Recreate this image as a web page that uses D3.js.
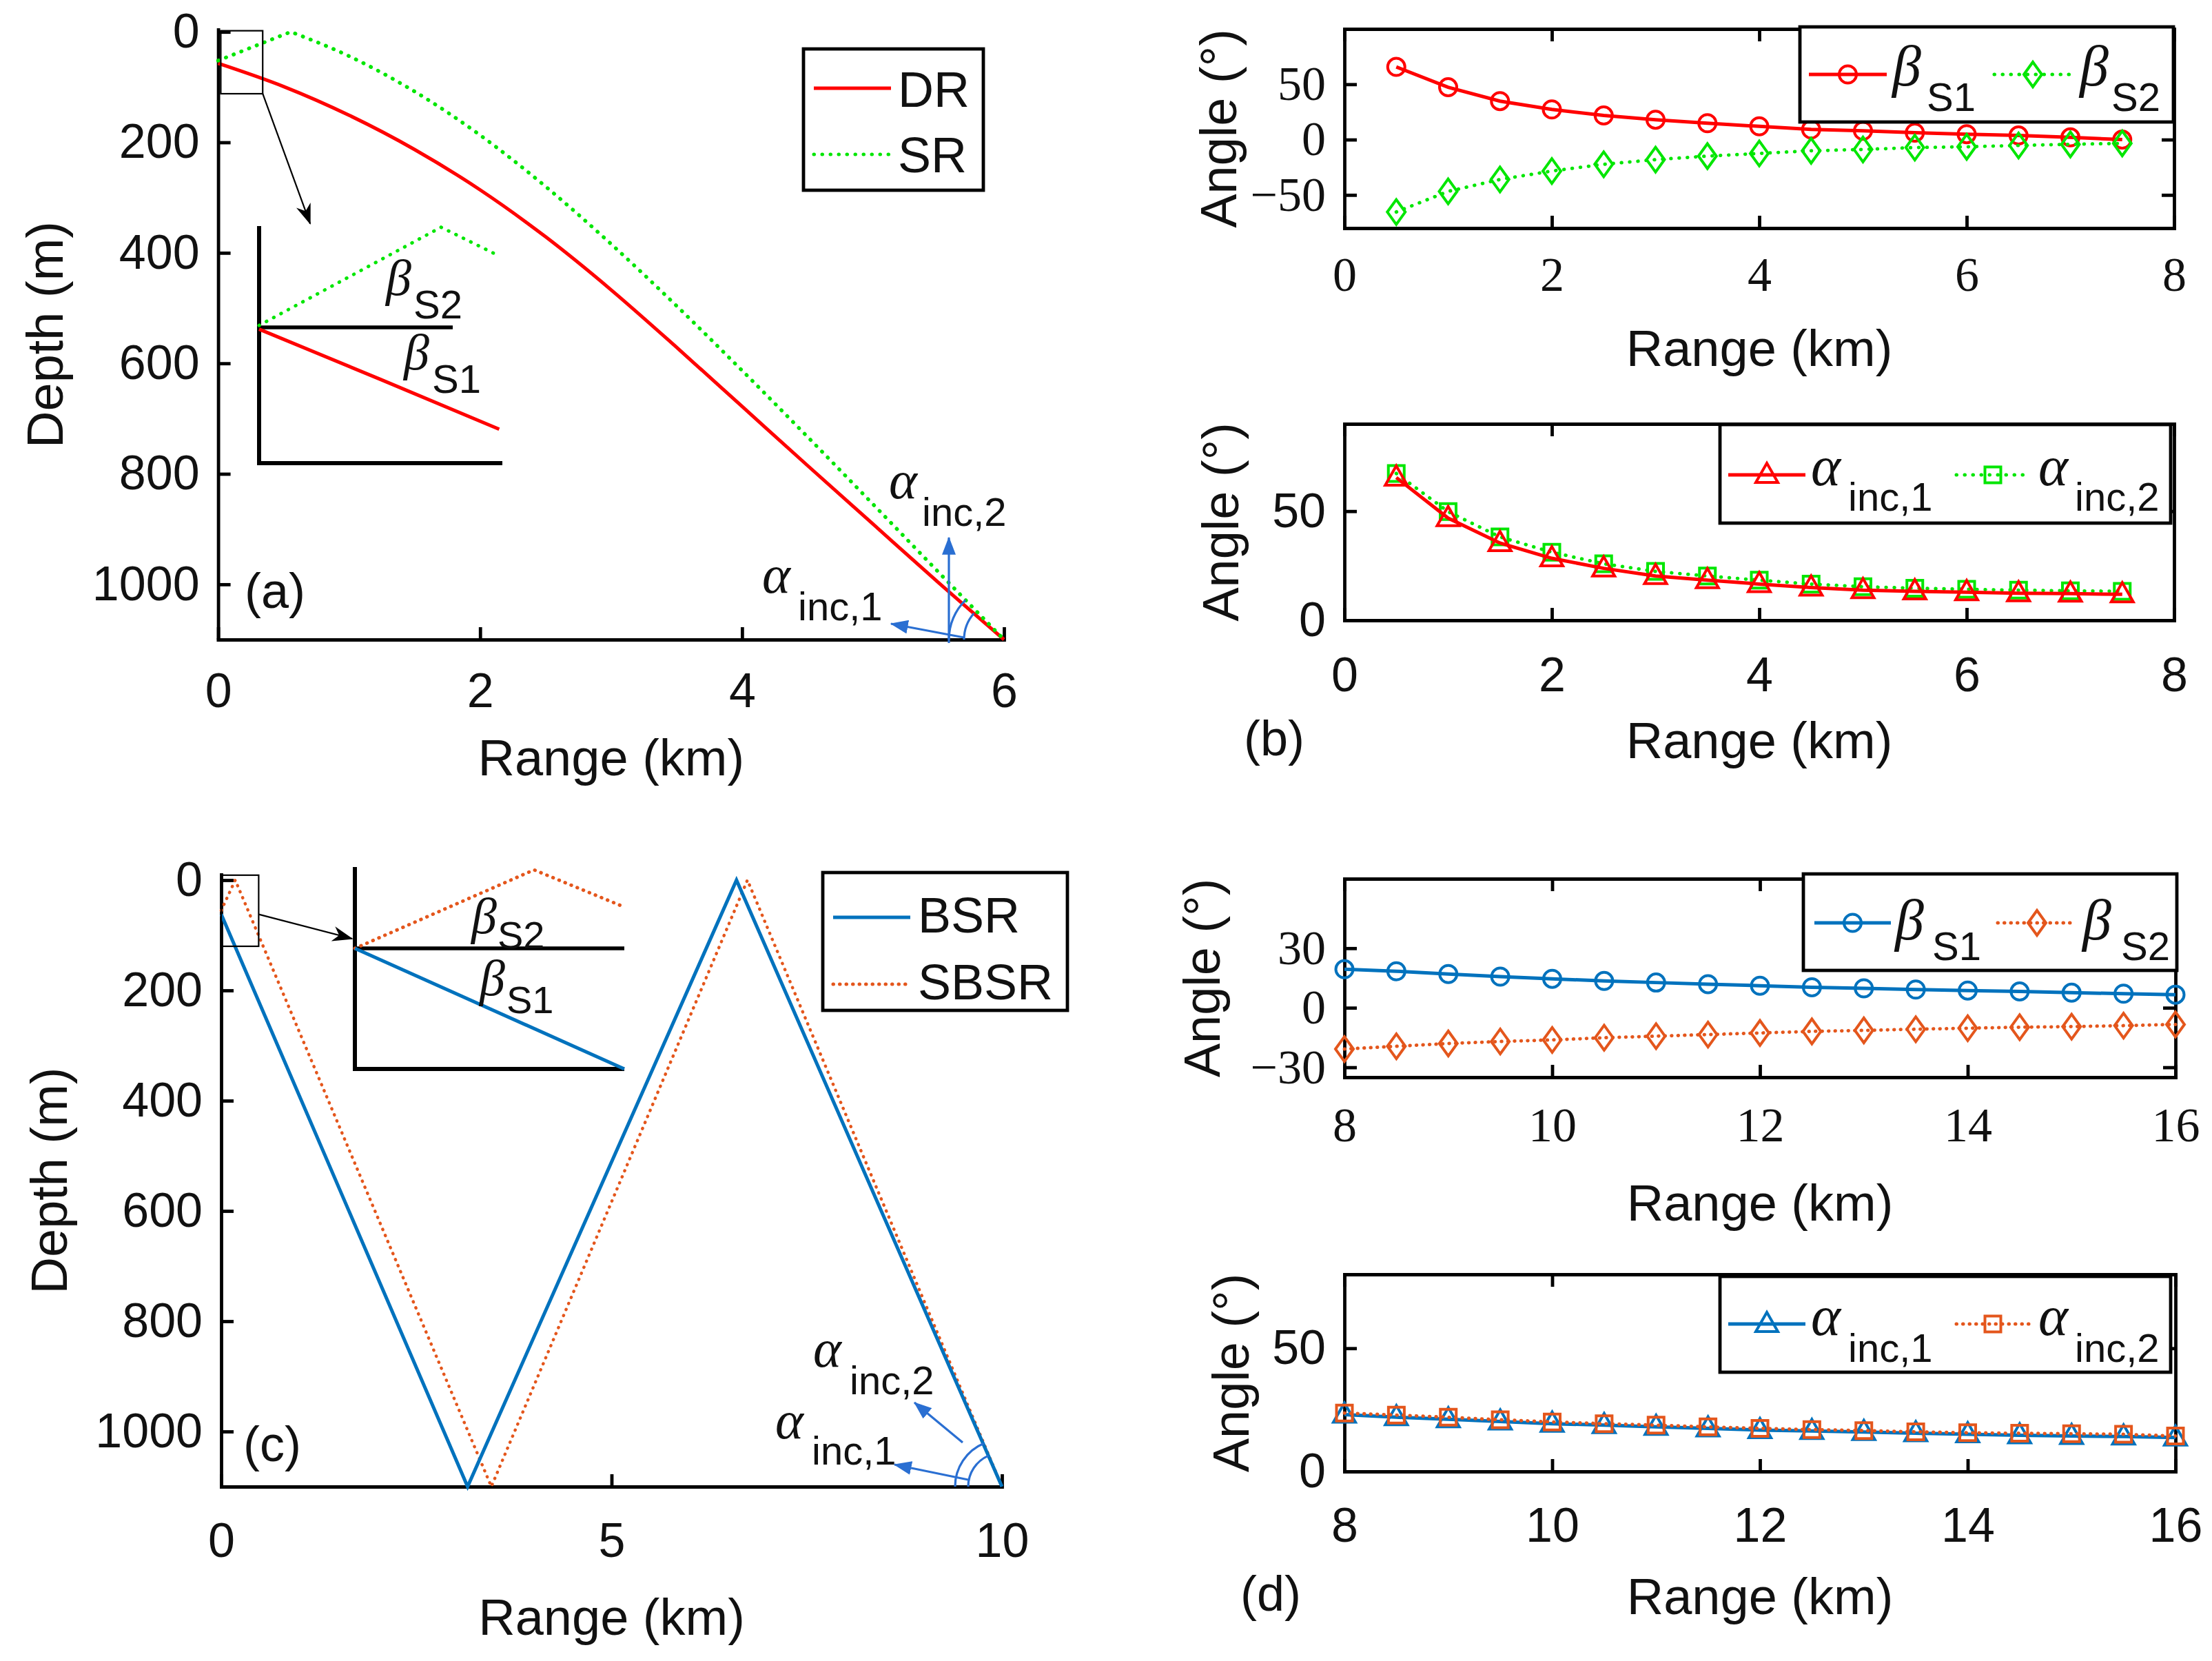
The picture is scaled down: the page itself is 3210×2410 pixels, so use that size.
<!DOCTYPE html>
<html><head><meta charset="utf-8">
<script src="https://cdn.jsdelivr.net/npm/d3@7"></script>
<style>body{margin:0;background:#fff} svg{display:block}</style>
</head><body>
<svg id="fig" width="3210" height="2410"></svg>
<script>
// ================= DATA =================
// Panel (a): ray paths, range (km) / depth (m)
const drRange = [0, 0.5, 1, 1.5, 2, 2.5, 3, 3.5, 4, 4.5, 5, 5.5, 6];
const drDepth = [57, 99, 151, 213, 286, 371, 467, 571, 678, 785, 891, 997, 1100];
const srRange = [0, 0.555, 1, 1.5, 2, 2.5, 3, 3.5, 4, 4.5, 5, 5.5, 6];
const srDepth = [52, 0, 44, 108, 187, 280, 384, 496, 613, 733, 855, 978, 1100];
const depthTicks = [0, 200, 400, 600, 800, 1000];
const rangeTicksA = [0, 2, 4, 6];
const legendA = ["DR", "SR"];

// Panel (b): angles vs range
const rangeB = [0.5, 1, 1.5, 2, 2.5, 3, 3.5, 4, 4.5, 5, 5.5, 6, 6.5, 7, 7.5];
const betaS1B = [65.7, 47.3, 34.8, 27.3, 21.8, 18, 14.8, 12, 9.2, 8, 6.3, 4.9, 3.7, 2, 0];
const betaS2B = [-65.4, -46.8, -36, -28.4, -22.3, -18.1, -14.9, -12.5, -10.1, -8.9, -7.2, -6.5, -5.3, -4.3, -3.4];
const alpha1B = [65.4, 46.8, 35.4, 28.4, 23.8, 20.3, 18.4, 16.6, 15, 13.8, 13.3, 12.9, 12.4, 12.2, 11.9];
const alpha2B = [67.3, 49.8, 38.2, 31.2, 25.9, 22.4, 20.3, 18.4, 16.6, 15.4, 14.7, 14.2, 13.8, 13.5, 13.3];
const rangeTicksB = [0, 2, 4, 6, 8];
const betaTicksB = [-50, 0, 50];
const alphaTicksB = [0, 50];

// Panel (c): ray paths
const bsrRange = [0, 3.156, 6.6, 10];
const bsrDepth = [62, 1100, 0, 1100];
const sbsrRange = [0, 0.18, 3.46, 6.74, 10];
const sbsrDepth = [55, 0, 1100, 0, 1100];
const rangeTicksC = [0, 5, 10];
const legendC = ["BSR", "SBSR"];

// Panel (d): angles vs range
const rangeD = [8, 8.5, 9, 9.5, 10, 10.5, 11, 11.5, 12, 12.5, 13, 13.5, 14, 14.5, 15, 15.5, 16];
const betaS1D = [19.4, 18.4, 17, 15.7, 14.6, 13.5, 12.7, 11.9, 11.1, 10.3, 9.8, 9.2, 8.7, 8.2, 7.6, 7.1, 6.6];
const betaS2D = [-20.8, -19.4, -18, -17, -16.2, -15.1, -14.3, -13.5, -12.7, -11.9, -11.4, -10.8, -10.3, -9.8, -9.5, -9, -8.4];
const alpha1D = [23.1, 22, 21.2, 20.3, 19.4, 18.8, 18.1, 17.5, 16.8, 16.4, 16, 15.5, 15.1, 14.7, 14.4, 14.2, 13.8];
const alpha2D = [23.7, 22.9, 22, 21, 20.1, 19.4, 18.8, 18.1, 17.5, 17, 16.6, 16.1, 15.7, 15.5, 15.3, 15.1, 14.4];
const rangeTicksD = [8, 10, 12, 14, 16];
const betaTicksD = [-30, 0, 30];
const alphaTicksD = [0, 50];

// Insets (schematic zoom of source region, normalised 0..1 inset coordinates)
const insetA_SR_u = [0, 0.748, 0.979], insetA_SR_v = [0.419, 0.005, 0.122];
const insetA_DR_u = [0, 0.5, 0.987], insetA_DR_v = [0.435, 0.647, 0.857];
const insetC_SBSR_u = [0, 0.665, 1], insetC_SBSR_v = [0.403, 0.014, 0.198];
const insetC_BSR_u = [0, 1], insetC_BSR_v = [0.403, 1];

// ================= STYLE =================
const SANS = "Arial, 'Liberation Sans', Helvetica, sans-serif";
const SERIF = "'Liberation Serif', 'Times New Roman', serif";
const COL = {red: "#ff0000", green: "#00e600", blue: "#0072bd", orange: "#e4561c", arrow: "#2a6fd2", text: "#111"};
const AXW = 4.8, TICK = 18;
const LW = 5;
const DOT_G = "0.5 11.5", DOT_O = "0.5 9";

const svg = d3.select("#fig");
svg.append("rect").attr("width", 3210).attr("height", 2410).attr("fill", "#fff");
const defs = svg.append("defs");
function mk(id, color, len, wid, notch) {
  defs.append("marker").attr("id", id).attr("viewBox", "0 0 10 10")
    .attr("refX", 9.5).attr("refY", 5).attr("markerWidth", len).attr("markerHeight", wid)
    .attr("markerUnits", "userSpaceOnUse").attr("orient", "auto").attr("preserveAspectRatio", "none")
    .append("path").attr("d", `M0,0 L10,5 L0,10 L${notch},5 Z`).attr("fill", color);
}
mk("arrBlue", COL.arrow, 26, 20, 0);
mk("arrBlack", "#000", 30, 22, 3);

function makePanel(p) {
  const x = d3.scaleLinear().domain(p.xDomain).range([p.left, p.right]);
  const y = d3.scaleLinear().domain(p.yDomain).range(p.reversed ? [p.top, p.bottom] : [p.bottom, p.top]);
  const g = svg.append("g");
  const fam = p.serif ? SERIF : SANS;
  const fmt = d3.format("d");
  const gx = g.append("g").attr("transform", `translate(0,${p.bottom})`)
    .call(d3.axisBottom(x).tickValues(p.xTicks).tickSize(-TICK).tickSizeOuter(0).tickPadding(p.xPad).tickFormat(fmt));
  const gy = g.append("g").attr("transform", `translate(${p.left},0)`)
    .call(d3.axisLeft(y).tickValues(p.yTicks).tickSize(-TICK).tickSizeOuter(0).tickPadding(27).tickFormat(fmt));
  if (p.box) {
    g.append("g").attr("transform", `translate(0,${p.top})`)
      .call(d3.axisTop(x).tickValues(p.xTicks).tickSize(-TICK).tickSizeOuter(0).tickFormat(() => ""));
    g.append("g").attr("transform", `translate(${p.right},0)`)
      .call(d3.axisRight(y).tickValues(p.yTicks).tickSize(-TICK).tickSizeOuter(0).tickFormat(() => ""));
  }
  g.selectAll(".domain").attr("stroke", "#000").attr("stroke-width", AXW).attr("stroke-linecap", "square");
  g.selectAll(".tick line").attr("stroke", "#000").attr("stroke-width", AXW);
  [gx, gy].forEach(a => a.attr("font-family", fam).attr("font-size", 70));
  g.selectAll(".tick text").attr("fill", COL.text);
  g.append("text").attr("x", (p.left + p.right) / 2).attr("y", p.xlabY).attr("text-anchor", "middle")
    .attr("font-family", SANS).attr("font-size", 74).attr("fill", COL.text).text("Range (km)");
  g.append("text").attr("transform", `translate(${p.ylabX},${(p.top + p.bottom) / 2}) rotate(-90)`)
    .attr("text-anchor", "middle").attr("font-family", SANS).attr("font-size", 74).attr("fill", COL.text).text(p.ylabel);
  const plot = svg.append("g");
  return {x, y, g: plot, p};
}

function path(g, xs, ys, x, y, color, width, dash, curve) {
  const d = d3.line().x(v => x(v[0])).y(v => y(v[1])).curve(curve || d3.curveLinear)(d3.zip(xs, ys));
  const el = g.append("path").attr("d", d).attr("fill", "none").attr("stroke", color).attr("stroke-width", width);
  if (dash) el.attr("stroke-dasharray", dash).attr("stroke-linecap", "round");
  return el;
}
function marker(g, type, cx, cy, color) {
  let d;
  if (type === "o") { g.append("circle").attr("cx", cx).attr("cy", cy).attr("r", 12.5).attr("fill", "none").attr("stroke", color).attr("stroke-width", 4); return; }
  if (type === "d") d = `M${cx},${cy - 18}L${cx + 13},${cy}L${cx},${cy + 18}L${cx - 13},${cy}Z`;
  if (type === "^") d = `M${cx},${cy - 17}L${cx + 16},${cy + 11}L${cx - 16},${cy + 11}Z`;
  if (type === "s") d = `M${cx - 11.5},${cy - 11.5}h23v23h-23Z`;
  g.append("path").attr("d", d).attr("fill", "none").attr("stroke", color).attr("stroke-width", 4).attr("stroke-linejoin", "miter");
}
function series(P, xs, ys, color, dash, mtype) {
  path(P.g, xs, ys, P.x, P.y, color, LW, dash);
  xs.forEach((v, i) => marker(P.g, mtype, P.x(v), P.y(ys[i]), color));
}
function greekSub(g, x, base, greek, sub, subX, subBase, gs, ss) {
  g.append("text").attr("x", x).attr("y", base).attr("font-family", SERIF).attr("font-style", "italic")
    .attr("font-size", gs).attr("fill", COL.text).text(greek);
  g.append("text").attr("x", subX).attr("y", subBase).attr("font-family", SANS)
    .attr("font-size", ss).attr("fill", COL.text).text(sub);
}
function legendBox(x0, y0, x1, y1) {
  svg.append("rect").attr("x", x0).attr("y", y0).attr("width", x1 - x0).attr("height", y1 - y0)
    .attr("fill", "#fff").attr("stroke", "#000").attr("stroke-width", AXW);
}
function legLine(x0, x1, yy, color, dash, mtype) {
  const l = svg.append("line").attr("x1", x0).attr("x2", x1).attr("y1", yy).attr("y2", yy)
    .attr("stroke", color).attr("stroke-width", LW);
  if (dash) l.attr("stroke-dasharray", dash).attr("stroke-linecap", "round");
  if (mtype) marker(svg, mtype, (x0 + x1) / 2, yy, color);
}
function blueArrow(g, x1, y1, x2, y2) {
  g.append("line").attr("x1", x1).attr("y1", y1).attr("x2", x2).attr("y2", y2)
    .attr("stroke", COL.arrow).attr("stroke-width", 3.2).attr("marker-end", "url(#arrBlue)");
}
function endArc(g, P, xs, ys, r) {
  const n = xs.length;
  const ex = P.x(xs[n - 1]), ey = P.y(ys[n - 1]);
  const dx = ex - P.x(xs[n - 2]), dy = ey - P.y(ys[n - 2]);
  let a1 = Math.atan2(-dy, -dx); if (a1 < 0) a1 += 2 * Math.PI;
  const pth = d3.path();
  pth.moveTo(ex - r, ey);
  pth.arc(ex, ey, r, Math.PI, a1, false);
  g.append("path").attr("d", pth.toString()).attr("fill", "none").attr("stroke", COL.arrow).attr("stroke-width", 3.2);
  return [ex, ey];
}
function inset(box, lines, refV, refU1) {
  const u = d3.scaleLinear().domain([0, 1]).range([box.x0, box.x1]);
  const v = d3.scaleLinear().domain([0, 1]).range([box.y0, box.y1]);
  const g = svg.append("g");
  g.append("path").attr("d", `M${u(0)},${v(0)}V${v(1)}H${u(1)}`).attr("fill", "none").attr("stroke", "#000").attr("stroke-width", 6);
  g.append("line").attr("x1", u(0)).attr("x2", u(refU1)).attr("y1", v(refV)).attr("y2", v(refV)).attr("stroke", "#000").attr("stroke-width", 5.5);
  lines.forEach(L => path(g, L.u, L.v, u, v, L.color, LW, L.dash, L.curve));
  return {u, v, g};
}

// ================= PANEL (a) =================
const A = makePanel({left: 316.6, right: 1457, top: 43, bottom: 928, xDomain: [0, 6], yDomain: [-4, 1100], reversed: true,
  xTicks: rangeTicksA, yTicks: depthTicks, xPad: 48, xlabY: 1125, ylabX: 91, ylabel: "Depth (m)"});
path(A.g, drRange, drDepth, A.x, A.y, COL.red, LW, null, d3.curveMonotoneX);
{
  const pk = d3.minIndex(srDepth);
  const up = d3.line().x(v => A.x(v[0])).y(v => A.y(v[1]))(d3.zip(srRange.slice(0, pk + 1), srDepth.slice(0, pk + 1)));
  const dn = d3.line().x(v => A.x(v[0])).y(v => A.y(v[1])).curve(d3.curveMonotoneX)(d3.zip(srRange.slice(pk), srDepth.slice(pk)));
  A.g.append("path").attr("d", up + dn.replace(/^M/, "L")).attr("fill", "none").attr("stroke", COL.green)
    .attr("stroke-width", LW + 0.5).attr("stroke-dasharray", DOT_G).attr("stroke-linecap", "round");
}
// zoom rectangle and arrow
A.g.append("rect").attr("x", A.x(0.02)).attr("y", A.y(-2)).attr("width", A.x(0.34) - A.x(0.02)).attr("height", A.y(112) - A.y(-2))
  .attr("fill", "none").attr("stroke", "#000").attr("stroke-width", 2.2);
const insA = inset({x0: 376, x1: 729, y0: 328, y1: 672}, [
  {u: insetA_SR_u, v: insetA_SR_v, color: COL.green, dash: DOT_G},
  {u: insetA_DR_u, v: insetA_DR_v, color: COL.red, curve: d3.curveMonotoneX}], 0.427, 0.796);
A.g.append("line").attr("x1", A.x(0.34)).attr("y1", A.y(112)).attr("x2", insA.u(0.21)).attr("y2", insA.v(-0.01))
  .attr("stroke", "#000").attr("stroke-width", 2.2).attr("marker-end", "url(#arrBlack)");
greekSub(insA.g, 560, 428, "β", "S2", 600, 462, 74, 58);
greekSub(insA.g, 586, 536, "β", "S1", 627, 570, 74, 58);
// incidence angle annotation
{
  const [ex, ey] = endArc(A.g, A, drRange, drDepth, 58);
  endArc(A.g, A, srRange, srDepth, 80);
  blueArrow(A.g, ex - 80, ey + 5, ex - 80, ey - 148);
  blueArrow(A.g, ex - 58, ey - 3, ex - 164, ey - 23);
  greekSub(A.g, 1290, 723, "α", "inc,2", 1338, 763, 78, 58);
  greekSub(A.g, 1106, 860, "α", "inc,1", 1158, 900, 78, 58);
}
A.g.append("text").attr("x", 399).attr("y", 882).attr("text-anchor", "middle").attr("font-family", SANS).attr("font-size", 72).attr("fill", COL.text).text("(a)");
legendBox(1166, 71, 1427, 276);
legLine(1181, 1293, 128, COL.red, null, null);
legLine(1181, 1293, 224, COL.green, DOT_G, null);
svg.append("text").attr("x", 1303).attr("y", 155).attr("font-family", SANS).attr("font-size", 72).attr("fill", COL.text).text(legendA[0]);
svg.append("text").attr("x", 1303).attr("y", 250).attr("font-family", SANS).attr("font-size", 72).attr("fill", COL.text).text(legendA[1]);

// ================= PANEL (b) =================
const B1 = makePanel({left: 1951, right: 3155, top: 42, bottom: 331, xDomain: [0, 8], yDomain: [-80, 100], box: true, serif: true,
  xTicks: rangeTicksB, yTicks: betaTicksB, xPad: 41, xlabY: 531, ylabX: 1794, ylabel: "Angle (°)"});
series(B1, rangeB, betaS1B, COL.red, null, "o");
series(B1, rangeB, betaS2B, COL.green, DOT_G, "d");
legendBox(2612, 39, 3154, 177);
legLine(2625, 2738, 108, COL.red, null, "o");
legLine(2894, 3006, 108, COL.green, DOT_G, "d");
greekSub(svg, 2746, 124, "β", "S1", 2796, 161, 84, 58);
greekSub(svg, 3018, 124, "β", "S2", 3064, 161, 84, 58);

const B2 = makePanel({left: 1951, right: 3155, top: 615, bottom: 900, xDomain: [0, 8], yDomain: [0, 90], box: true,
  xTicks: rangeTicksB, yTicks: alphaTicksB, xPad: 53, xlabY: 1100, ylabX: 1797, ylabel: "Angle (°)"});
series(B2, rangeB, alpha2B, COL.green, DOT_G, "s");
series(B2, rangeB, alpha1B, COL.red, null, "^");
legendBox(2496, 616, 3150, 759);
legLine(2508, 2620, 689, COL.red, null, "^");
legLine(2839, 2945, 689, COL.green, DOT_G, "s");
greekSub(svg, 2628, 704, "α", "inc,1", 2682, 741, 82, 58);
greekSub(svg, 2958, 704, "α", "inc,2", 3011, 741, 82, 58);
svg.append("text").attr("x", 1849).attr("y", 1096).attr("text-anchor", "middle").attr("font-family", SANS).attr("font-size", 72).attr("fill", COL.text).text("(b)");

// ================= PANEL (c) =================
const Cp = makePanel({left: 321, right: 1454, top: 1269, bottom: 2157, xDomain: [0, 10], yDomain: [-10, 1100], reversed: true,
  xTicks: rangeTicksC, yTicks: depthTicks, xPad: 52, xlabY: 2372, ylabX: 97, ylabel: "Depth (m)"});
path(Cp.g, sbsrRange, sbsrDepth, Cp.x, Cp.y, COL.orange, 4.5, DOT_O);
path(Cp.g, bsrRange, bsrDepth, Cp.x, Cp.y, COL.blue, LW);
Cp.g.append("rect").attr("x", Cp.x(0)).attr("y", Cp.y(-9)).attr("width", Cp.x(0.48) - Cp.x(0)).attr("height", Cp.y(120) - Cp.y(-9))
  .attr("fill", "none").attr("stroke", "#000").attr("stroke-width", 2.2);
const insC = inset({x0: 515, x1: 906, y0: 1258, y1: 1551}, [
  {u: insetC_SBSR_u, v: insetC_SBSR_v, color: COL.orange, dash: DOT_O},
  {u: insetC_BSR_u, v: insetC_BSR_v, color: COL.blue}], 0.403, 1);
Cp.g.append("line").attr("x1", Cp.x(0.48)).attr("y1", Cp.y(62)).attr("x2", insC.u(-0.01)).attr("y2", insC.v(0.355))
  .attr("stroke", "#000").attr("stroke-width", 2.2).attr("marker-end", "url(#arrBlack)");
greekSub(insC.g, 684, 1354, "β", "S2", 722, 1376, 74, 56);
greekSub(insC.g, 696, 1444, "β", "S1", 735, 1470, 74, 56);
{
  const [ex, ey] = endArc(Cp.g, Cp, bsrRange, bsrDepth, 49);
  endArc(Cp.g, Cp, sbsrRange, sbsrDepth, 68);
  blueArrow(Cp.g, ex - 57, ey - 64, ex - 127, ey - 122);
  blueArrow(Cp.g, ex - 49, ey - 10, ex - 156, ey - 32);
  greekSub(Cp.g, 1180, 1983, "α", "inc,2", 1233, 2023, 78, 58);
  greekSub(Cp.g, 1125, 2087, "α", "inc,1", 1178, 2125, 78, 58);
}
Cp.g.append("text").attr("x", 395).attr("y", 2120).attr("text-anchor", "middle").attr("font-family", SANS).attr("font-size", 72).attr("fill", COL.text).text("(c)");
legendBox(1194, 1266, 1549, 1466);
legLine(1209, 1321, 1331, COL.blue, null, null);
legLine(1209, 1321, 1428, COL.orange, DOT_O, null);
svg.append("text").attr("x", 1332).attr("y", 1353).attr("font-family", SANS).attr("font-size", 72).attr("fill", COL.text).text(legendC[0]);
svg.append("text").attr("x", 1332).attr("y", 1450).attr("font-family", SANS).attr("font-size", 72).attr("fill", COL.text).text(legendC[1]);

// ================= PANEL (d) =================
const D1 = makePanel({left: 1951, right: 3157, top: 1275, bottom: 1563, xDomain: [8, 16], yDomain: [-35, 65], box: true, serif: true,
  xTicks: rangeTicksD, yTicks: betaTicksD, xPad: 43, xlabY: 1771, ylabX: 1770, ylabel: "Angle (°)"});
series(D1, rangeD, betaS1D, COL.blue, null, "o");
series(D1, rangeD, betaS2D, COL.orange, DOT_O, "d");
legendBox(2617, 1268, 3159, 1408);
legLine(2633, 2744, 1339, COL.blue, null, "o");
legLine(2899, 3013, 1339, COL.orange, DOT_O, "d");
greekSub(svg, 2750, 1363, "β", "S1", 2804, 1393, 84, 58);
greekSub(svg, 3022, 1363, "β", "S2", 3078, 1393, 84, 58);

const D2 = makePanel({left: 1951, right: 3157, top: 1849, bottom: 2135, xDomain: [8, 16], yDomain: [0, 80], box: true,
  xTicks: rangeTicksD, yTicks: alphaTicksD, xPad: 52, xlabY: 2342, ylabX: 1812, ylabel: "Angle (°)"});
series(D2, rangeD, alpha1D, COL.blue, null, "^");
series(D2, rangeD, alpha2D, COL.orange, DOT_O, "s");
legendBox(2496, 1852, 3150, 1991);
legLine(2508, 2620, 1921, COL.blue, null, "^");
legLine(2839, 2945, 1921, COL.orange, DOT_O, "s");
greekSub(svg, 2628, 1937, "α", "inc,1", 2682, 1976, 82, 58);
greekSub(svg, 2958, 1937, "α", "inc,2", 3011, 1976, 82, 58);
svg.append("text").attr("x", 1844).attr("y", 2337).attr("text-anchor", "middle").attr("font-family", SANS).attr("font-size", 72).attr("fill", COL.text).text("(d)");
</script>
</body></html>
